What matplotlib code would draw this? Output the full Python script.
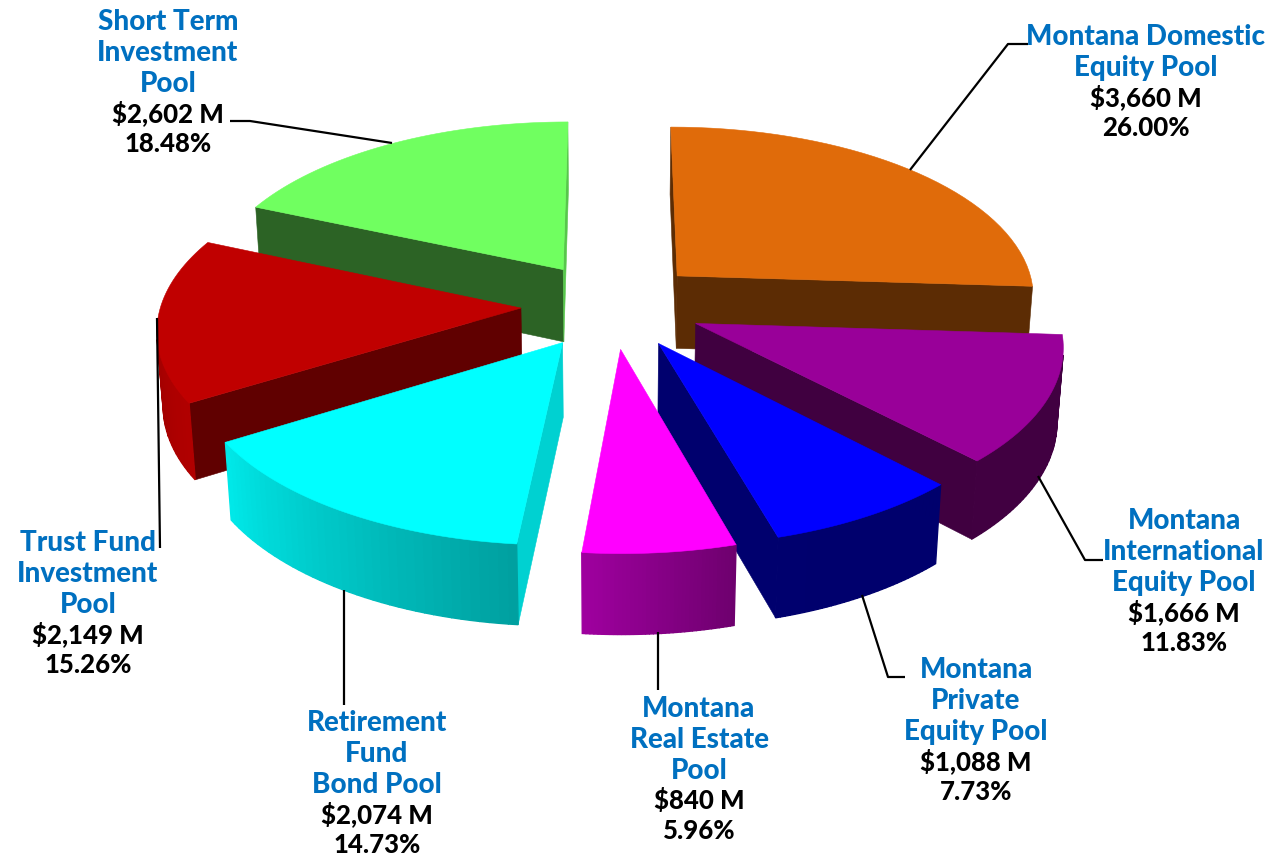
import numpy as np
import matplotlib
matplotlib.use("Agg")
import matplotlib.pyplot as plt
from matplotlib.patches import Polygon

# Pool balances in $ millions, clockwise from twelve o'clock
pools = [
    "Montana Domestic\nEquity Pool",
    "Montana\nInternational\nEquity Pool",
    "Montana\nPrivate\nEquity Pool",
    "Montana\nReal Estate\nPool",
    "Retirement\nFund\nBond Pool",
    "Trust Fund\nInvestment\nPool",
    "Short Term\nInvestment\nPool",
]
values = [3660, 1666, 1088, 840, 2074, 2149, 2602]
value_labels = ["$3,660 M", "$1,666 M", "$1,088 M", "$840 M", "$2,074 M", "$2,149 M", "$2,602 M"]
percent_labels = ["26.00%", "11.83%", "7.73%", "5.96%", "14.73%", "15.26%", "18.48%"]

colors = ["#E06B0A", "#990099", "#0000FF", "#FF00FF", "#00FFFF", "#C00000", "#70FF60"]
start_face = [0.41, 0.42, 0.43, 0.43, 0.82, 0.50, 0.39]
end_face = [0.41, 0.42, 0.43, 0.43, 0.50, 0.50, 0.78]
draw_order = [6, 0, 5, 1, 4, 2, 3]

# Label anchors (centre x, first baseline y) and leader paths, in pixels
label_pos = [(1146, 45), (1184, 529), (976, 678), (699, 717), (377, 731), (88, 551), (168, 30)]
leaders = [
    [(1028, 44), (1008, 44), (910, 170)],
    [(1103, 560), (1085, 560), (1038, 476)],
    [(905, 677), (888, 677), (862, 595)],
    [(658, 690), (658, 632)],
    [(344, 705), (344, 590)],
    [(160, 548), (157, 318)],
    [(230, 121), (250, 121), (392, 143)],
]

# Camera and pie geometry (unit pie radius)
CX, CY = 612.0, 305.0
SCALE = 360.0
ELEV = np.radians(28.4)
DIST = 8.0
EXPLODE = 0.253
HEIGHT = 0.235


def project(x, y, z):
    x, y, z = np.asarray(x, float), np.asarray(y, float), np.asarray(z, float)
    s, c = np.sin(ELEV), np.cos(ELEV)
    depth = DIST + y * c - z * s
    k = SCALE * DIST / depth
    return np.column_stack([CX + k * x, CY - k * (y * s + z * c)])


def signed_area(p):
    x, y = p[:, 0], p[:, 1]
    return 0.5 * np.sum(x * np.roll(y, -1) - np.roll(x, -1) * y)


def wall_shade(deg):
    return np.interp(deg, [90, 164, 185, 240, 300], [0.42, 0.43, 0.62, 0.92, 0.72])


def tint(color, f):
    return tuple(min(1.0, v * f) for v in matplotlib.colors.to_rgb(color))


fig = plt.figure(figsize=(12.72, 8.57), dpi=100, facecolor="white")
ax = fig.add_axes([0, 0, 1, 1])
ax.set_xlim(0, 1272)
ax.set_ylim(857, 0)
ax.axis("off")

shares = np.array(values, float) / np.sum(values)
edges = np.concatenate([[0], np.cumsum(shares)]) * 360


def add_poly(pts, color, z, lw=0.4):
    ax.add_patch(Polygon(pts, closed=True, facecolor=color, edgecolor=color, linewidth=lw, zorder=z))


for rank, i in enumerate(draw_order):
    a0, a1 = edges[i], edges[i + 1]
    mid = np.radians((a0 + a1) / 2)
    ox, oy = EXPLODE * np.sin(mid), EXPLODE * np.cos(mid)
    deg = np.linspace(a0, a1, 40)
    th = np.radians(deg)
    rx, ry = ox + np.sin(th), oy + np.cos(th)
    z_base = 10 + rank * 10

    # Radial cut faces: keep the ones turned toward the viewer
    for edge_idx, shade, sign in ((0, start_face[i], 1), (-1, end_face[i], -1)):
        quad = project([ox, rx[edge_idx], rx[edge_idx], ox], [oy, ry[edge_idx], ry[edge_idx], oy],
                       [0, 0, -HEIGHT, -HEIGHT])
        if signed_area(quad) * sign < 0:
            add_poly(quad, tint(colors[i], shade), z_base)

    # Rim wall, shaded facet by facet; thick edges close the seams between facets
    for j in range(len(deg) - 1):
        quad = project([rx[j], rx[j + 1], rx[j + 1], rx[j]], [ry[j], ry[j + 1], ry[j + 1], ry[j]],
                       [0, 0, -HEIGHT, -HEIGHT])
        if signed_area(quad) < 0:
            add_poly(quad, tint(colors[i], wall_shade((deg[j] + deg[j + 1]) / 2)), z_base + 1, lw=1.0)

    # Top surface
    top = project(np.r_[ox, rx], np.r_[oy, ry], np.zeros(len(rx) + 1))
    add_poly(top, colors[i], z_base + 2)

# Leader lines
for path in leaders:
    xs, ys = zip(*path)
    ax.plot(xs, ys, color="black", lw=1.6, zorder=100, solid_capstyle="butt")

# Labels: pool name in blue, then balance and share in black
LINE = 31
name_font = dict(family="Lato", fontsize=20, fontweight=900, ha="center", va="baseline", zorder=110)
value_font = dict(name_font, fontsize=18.5)
for name, val, pct, (x, y) in zip(pools, value_labels, percent_labels, label_pos):
    lines = name.split("\n")
    for n, line in enumerate(lines):
        ax.text(x, y + n * LINE, line, color="#0070C0", **name_font)
    ax.text(x, y + len(lines) * LINE - 1, val, color="black", **value_font)
    ax.text(x, y + (len(lines) + 1) * LINE - 2, pct, color="black", **value_font)

fig.savefig("out.png", dpi=100)
